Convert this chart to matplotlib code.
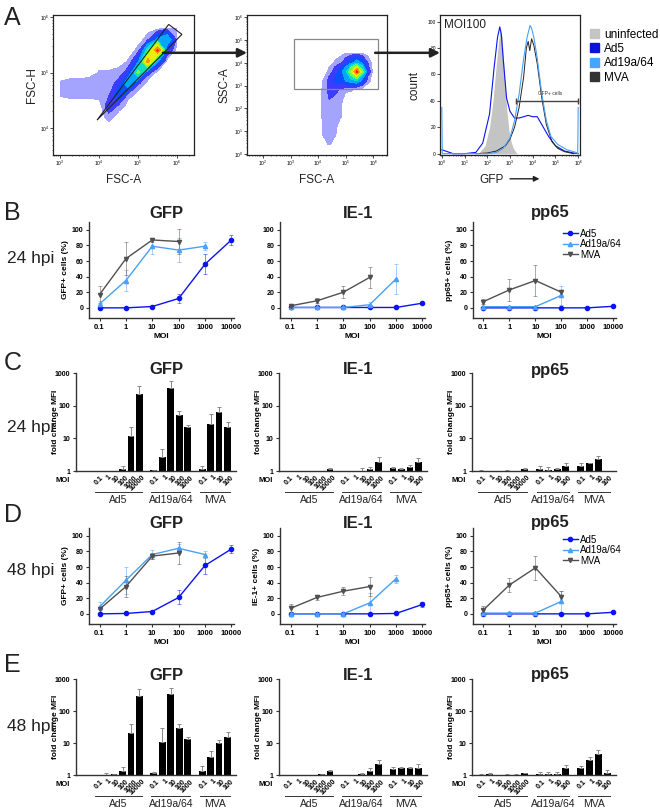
#%% flow cytometry + MOI titration figure
import numpy as np
import matplotlib
matplotlib.use('Agg')
import matplotlib.pyplot as plt
from matplotlib.patches import Polygon, Rectangle, Patch, ConnectionPatch
from matplotlib.lines import Line2D
from matplotlib.ticker import NullLocator
from matplotlib import transforms

plt.rcParams['font.family'] = ['Liberation Sans', 'DejaVu Sans']

#%% data

moi = [0.1, 1, 10, 100, 1000, 10000]
moi_labels = ['0.1', '1', '10', '100', '1000', '10000']
viruses = ['Ad5', 'Ad19a/64', 'MVA']

# A: density grids (log10 units, rows = y)
fsca_log = [3.0, 3.25, 3.5, 3.75, 4.0, 4.25, 4.5, 4.75, 5.0, 5.25, 5.5, 5.75, 6.0]
fsch_log = [4.0, 4.2, 4.4, 4.6, 4.8, 5.0, 5.2, 5.4, 5.6, 5.8]
fsc_density = [
    [0, 0, 0, 0, 0, 0, 0, 0, 0, 0, 0, 0, 0],
    [0, 0, 0, 0, 0, 0.5, 0, 0, 0, 0, 0, 0, 0],
    [0, 0, 0, 0, 0, 1.2, 0.6, 0, 0, 0, 0, 0, 0],
    [0.3, 0.4, 0.4, 0.4, 0.5, 0.6, 2.0, 0.5, 0, 0, 0, 0, 0],
    [0.3, 0.4, 0.4, 0.5, 0.5, 0.5, 0.9, 3.0, 0.8, 0, 0, 0, 0],
    [0, 0, 0, 0, 0.3, 0.3, 0.4, 1.0, 4.5, 1.0, 0, 0, 0],
    [0, 0, 0, 0, 0, 0, 0, 0.3, 1.8, 8.0, 2.2, 0, 0],
    [0, 0, 0, 0, 0, 0, 0, 0, 0.4, 3.8, 9.0, 1.3, 0],
    [0, 0, 0, 0, 0, 0, 0, 0, 0, 0.5, 2.2, 2.8, 0.5],
    [0, 0, 0, 0, 0, 0, 0, 0, 0, 0, 0, 0.5, 0.3],
]
fsc_gate_x = [3.95, 5.79, 6.13]
fsc_gate_y = [4.14, 5.87, 5.69]

ssc_fsca_log = [3.8, 4.0, 4.2, 4.4, 4.6, 4.8, 5.0, 5.2, 5.4, 5.6, 5.8, 6.0]
ssc_log = [0.4, 0.8, 1.2, 1.6, 2.0, 2.4, 2.8, 3.2, 3.6, 4.0, 4.4]
ssc_density = [
    [0, 0, 0, 0.3, 0, 0, 0, 0, 0, 0, 0, 0],
    [0, 0, 0.3, 0.4, 0.3, 0, 0, 0, 0, 0, 0, 0],
    [0, 0, 0.3, 0.5, 0.4, 0, 0, 0, 0, 0, 0, 0],
    [0, 0, 0.4, 0.5, 0.4, 0.3, 0, 0, 0, 0, 0, 0],
    [0, 0, 0.4, 0.6, 0.5, 0.3, 0, 0, 0, 0, 0, 0],
    [0, 0, 0.4, 0.7, 0.6, 0.4, 0, 0, 0, 0, 0, 0],
    [0, 0, 0.4, 0.9, 0.9, 0.6, 0.4, 0.3, 0, 0, 0, 0],
    [0, 0, 0.3, 0.9, 1.4, 1.6, 2.0, 2.5, 3.0, 1.6, 0.4, 0],
    [0, 0, 0, 0.4, 1.0, 1.6, 2.8, 5.5, 9.0, 4.6, 1.2, 0],
    [0, 0, 0, 0, 0.3, 0.6, 1.0, 1.8, 2.5, 1.8, 0.7, 0],
    [0, 0, 0, 0, 0, 0, 0.3, 0.4, 0.4, 0.3, 0, 0],
]
ssc_gate = [3.11, 2.84, 6.18, 5.04]  # log x0, y0, x1, y1

dens_levels = [0.25, 0.7, 1.3, 2.0, 3.0, 4.0, 5.5, 7.0, 8.5, 10]
dens_colors = ['#a4a4ff', '#3c3cff', '#0a50ff', '#00a8ff', '#10e0c0',
               '#70ff50', '#e8f000', '#ff9000', '#ff2000']

# A: GFP histograms (log10 GFP, % of max)
h_un_x = [1.6, 1.9, 2.1, 2.25, 2.4, 2.5, 2.58, 2.65, 2.75, 2.85, 2.95, 3.05, 3.15, 3.3]
h_un_y = [0, 6, 20, 40, 68, 85, 95, 88, 62, 35, 18, 9, 4, 0]
h_ad5_x = [0.0, 0.5, 1.0, 1.5, 1.8, 2.1, 2.3, 2.45, 2.55, 2.62, 2.7, 2.85, 3.0, 3.2,
           3.4, 3.6, 3.8, 4.0, 4.2, 4.4, 4.7, 5.0, 5.4, 5.8, 6.0]
h_ad5_y = [3, 0, 0, 1, 8, 30, 65, 88, 96, 90, 72, 42, 32, 27,
           27, 28, 29, 28, 28, 22, 13, 6, 2, 0.5, 0]
h_ad19_x = [0.0, 0.02, 1.0, 2.0, 2.4, 2.7, 3.0, 3.2, 3.4, 3.6, 3.75, 3.88, 3.95, 4.05,
            4.2, 4.4, 4.6, 4.8, 5.1, 5.5, 5.9, 5.98, 6.0]
h_ad19_y = [35, 0, 0, 0, 1, 4, 12, 25, 45, 72, 88, 97, 95, 88,
            72, 45, 25, 13, 7, 3, 1, 0, 35]
h_mva_x = [1.5, 2.0, 2.4, 2.8, 3.0, 3.2, 3.4, 3.6, 3.72, 3.8, 3.87, 3.95, 4.05, 4.2,
           4.4, 4.6, 4.85, 5.1, 5.4, 5.8]
h_mva_y = [0, 0.5, 2, 6, 11, 20, 35, 58, 80, 85, 78, 87, 82, 68,
           42, 22, 9, 4, 1.5, 0]
gfp_gate = [3.28, 6.0, 40]

# B: 24 hpi, % positive cells
b_gfp_ad5 = [0, 0, 1.7, 12, 56, 87];      b_gfp_ad5_sd = [0.5, 0.5, 0.8, 6, 13, 6]
b_gfp_ad19 = [5, 35, 79, 74, 79];         b_gfp_ad19_sd = [4, 14, 10, 15, 5]
b_gfp_mva = [17, 63, 87, 85];             b_gfp_mva_sd = [11, 21, 2, 16]
b_ie1_ad5 = [0.5, 0.5, 0.5, 0.5, 0.5, 6]; b_ie1_ad5_sd = [0, 0, 0, 0, 0, 1]
b_ie1_ad19 = [0.5, 0.5, 0.5, 4, 37];      b_ie1_ad19_sd = [0, 0, 0.5, 3, 19]
b_ie1_mva = [2.6, 9, 20, 39];             b_ie1_mva_sd = [1, 3, 8, 13]
b_pp65_ad5 = [0, 0, 0, 0, 0, 2];          b_pp65_ad5_sd = [0, 0, 0, 0, 0, 0.5]
b_pp65_ad19 = [1.5, 1.5, 1.5, 16];        b_pp65_ad19_sd = [0, 0, 0, 12]
b_pp65_mva = [8, 23, 35, 20];             b_pp65_mva_sd = [3, 14, 20, 3]

# D: 48 hpi, % positive cells
d_gfp_ad5 = [0, 0.5, 3, 21, 62, 83];      d_gfp_ad5_sd = [0, 0.5, 1, 9, 11, 5]
d_gfp_ad19 = [9, 43, 76, 84, 76];         d_gfp_ad19_sd = [6, 17, 6, 6, 4]
d_gfp_mva = [6, 35, 74, 78];              d_gfp_mva_sd = [3, 13, 4, 14]
d_ie1_ad5 = [0, 0, 0, 0, 0.5, 12];        d_ie1_ad5_sd = [0, 0, 0, 0, 0.5, 3]
d_ie1_ad19 = [0, 0, 0, 14, 45];           d_ie1_ad19_sd = [0, 0, 0, 13, 5]
d_ie1_mva = [7, 21, 29, 35];              d_ie1_mva_sd = [5, 3, 5, 12]
d_pp65_ad5 = [0, 0, 0, 0, 0, 2];          d_pp65_ad5_sd = [0, 0, 0, 0, 0, 0.5]
d_pp65_ad19 = [1, 1, 1, 16];              d_pp65_ad19_sd = [0, 0, 0, 13]
d_pp65_mva = [5, 37, 59, 22];             d_pp65_mva_sd = [5, 8.5, 15, 7.5]

# C/E: fold change MFI, bars in group order Ad5 | Ad19a/64 | MVA
n_gfp = [6, 5, 4]
n_ie1 = [6, 5, 4]
n_pp65 = [6, 4, 4]
c_gfp_mean = [1, 1, 1, 1.18, 11.8, 235, 1.05, 2.6, 350, 53, 23, 1.15, 28, 64, 23]
c_gfp_sd = [0, 0, 0, 0.21, 11, 160, 0, 2.2, 215, 17, 3, 0.24, 29, 27, 8]
c_ie1_mean = [1, 1, 1, 1, 1, 1.13, 1, 1, 1, 1.13, 1.92, 1.21, 1.18, 1.34, 1.92]
c_ie1_sd = [0, 0, 0, 0, 0, 0.14, 0, 0, 0.2, 0.21, 0.85, 0.13, 0.09, 0.16, 0.58]
c_pp65_mean = [1, 1, 1, 1, 1, 1.15, 1.13, 1.1, 1.13, 1.47, 1.43, 1.78, 2.26, 1.0]
c_pp65_sd = [0.1, 0, 0, 0.07, 0, 0.12, 0.27, 0.23, 0.14, 0.23, 0.27, 0.04, 0.6, 0]
e_gfp_mean = [1, 1, 1.07, 1.37, 21, 296, 1.13, 11, 333, 29, 13, 1.37, 3.7, 10, 15]
e_gfp_sd = [0, 0.13, 0.03, 0.37, 18, 180, 0.14, 18, 177, 9, 2.5, 0.53, 1.9, 2.5, 6.6]
e_ie1_mean = [1, 1, 1, 1, 1.05, 1.33, 1, 1, 1.05, 1.34, 2.22, 1.51, 1.62, 1.7, 1.7]
e_ie1_sd = [0, 0, 0, 0, 0.05, 0.1, 0, 0, 0.13, 0.28, 0.62, 0.32, 0.13, 0.13, 0.47]
e_pp65_mean = [1, 1.05, 1, 1, 1, 1.13, 1.08, 1.1, 1.05, 1.62, 1.62, 2.84, 4.6, 1.18]
e_pp65_sd = [0.05, 0.08, 0, 0.08, 0.05, 0.03, 0.19, 0.11, 0.16, 0.45, 0.3, 0.69, 1.56, 0.26]

#%% styles

W, H = 660, 810
AD5_C, AD19_C, MVA_C = '#0a14f0', '#4ba0f5', '#505050'
UNINF_C = '#c4c4c4'
SPINE_C = '#333333'

def rect(l, t, r, b):
    return [l / W, 1 - b / H, (r - l) / W, (b - t) / H]

def px(x, y):
    return x / W, 1 - y / H

fig = plt.figure(figsize=(6.6, 8.1), dpi=100)

#%% panel A

def flow_axes(pos):
    ax = fig.add_axes(pos)
    ax.set_xscale('log')
    ax.set_yscale('log')
    for s in ax.spines.values():
        s.set_linewidth(0.9)
        s.set_color('#222222')
    ax.tick_params(labelsize=3.5, length=2, width=0.5, pad=1)
    ax.tick_params(which='minor', length=1, width=0.4)
    return ax

a1 = flow_axes(rect(53, 15, 194, 155))
a1.contourf(10 ** np.array(fsca_log), 10 ** np.array(fsch_log), np.array(fsc_density),
            levels=dens_levels, colors=dens_colors)
a1.add_patch(Polygon(list(zip(10 ** np.array(fsc_gate_x), 10 ** np.array(fsc_gate_y))),
                     fill=False, ec='#222222', lw=0.8))
a1.set_xlim(10 ** 2.82, 10 ** 6.44)
a1.set_ylim(10 ** 3.51, 10 ** 6.04)
a1.set_xticks([1e3, 1e4, 1e5, 1e6])
a1.set_yticks([1e4, 1e5, 1e6])
a1.text(0.5, -0.18, 'FSC-A', transform=a1.transAxes, ha='center', va='center', fontsize=8.5, color='#222')
a1.text(-0.15, 0.5, 'FSC-H', transform=a1.transAxes, ha='center', va='center', rotation=90, fontsize=8.5, color='#222')

a2 = flow_axes(rect(247, 15, 387, 155))
a2.contourf(10 ** np.array(ssc_fsca_log), 10 ** np.array(ssc_log), np.array(ssc_density),
            levels=dens_levels, colors=dens_colors)
a2.add_patch(Rectangle((10 ** ssc_gate[0], 10 ** ssc_gate[1]),
                       10 ** ssc_gate[2] - 10 ** ssc_gate[0], 10 ** ssc_gate[3] - 10 ** ssc_gate[1],
                       fill=False, ec='#888888', lw=0.9))
a2.set_xlim(10 ** 1.42, 10 ** 6.5)
a2.set_ylim(10 ** -0.05, 10 ** 6.1)
a2.set_xticks([1e2, 1e3, 1e4, 1e5, 1e6])
a2.set_yticks([1e0, 1e1, 1e2, 1e3, 1e4, 1e5, 1e6])
a2.text(0.5, -0.18, 'FSC-A', transform=a2.transAxes, ha='center', va='center', fontsize=8.5, color='#222')
a2.text(-0.16, 0.5, 'SSC-A', transform=a2.transAxes, ha='center', va='center', rotation=90, fontsize=8.5, color='#222')

a3 = fig.add_axes(rect(440, 15, 580, 155))
a3.set_xscale('log')
for s in a3.spines.values():
    s.set_linewidth(0.9)
    s.set_color('#222222')
a3.tick_params(labelsize=3.5, length=2, width=0.5, pad=1)
a3.tick_params(which='minor', length=1, width=0.4)
a3.fill_between(10 ** np.array(h_un_x), h_un_y, color=UNINF_C, lw=0)
a3.plot(10 ** np.array(h_ad5_x), h_ad5_y, color=AD5_C, lw=0.8)
a3.plot(10 ** np.array(h_mva_x), h_mva_y, color='#222222', lw=0.7)
a3.plot(10 ** np.array(h_ad19_x), h_ad19_y, color=AD19_C, lw=0.8)
a3.plot([10 ** gfp_gate[0], 10 ** gfp_gate[1]], [gfp_gate[2], gfp_gate[2]],
        color='#444444', lw=1.0, marker='|', ms=5, mew=1.0, clip_on=False)
a3.text(10 ** 4.75, gfp_gate[2] + 4, 'GFP+ cells', fontsize=3.5, ha='center', va='bottom', color='#333')
a3.set_xlim(10 ** -0.08, 10 ** 6.08)
a3.set_ylim(-1, 105)
a3.set_xticks([1e0, 1e1, 1e2, 1e3, 1e4, 1e5, 1e6])
a3.set_yticks([0, 20, 40, 60, 80, 100])
a3.text(0.03, 0.93, 'MOI100', transform=a3.transAxes, ha='left', va='center', fontsize=8.5, color='#222')
a3.text(-0.18, 0.5, 'count', transform=a3.transAxes, ha='center', va='center', rotation=90, fontsize=8.5, color='#222')
a3.text(0.37, -0.18, 'GFP', transform=a3.transAxes, ha='center', va='center', fontsize=8.5, color='#222')
a3.annotate('', xy=(0.73, -0.17), xytext=(0.48, -0.17), xycoords='axes fraction',
            arrowprops=dict(arrowstyle='-|>', color='#222', lw=1.0, mutation_scale=8))

for axA, axB, xa in [(a1, a2, 0.78), (a2, a3, 0.915)]:
    fig.add_artist(ConnectionPatch(xyA=(xa, 0.73), coordsA=axA.transAxes,
                                   xyB=(0.0, 0.73), coordsB=axB.transAxes,
                                   arrowstyle='-|>', color='#222222', lw=1.8, mutation_scale=13))

fig.legend([Patch(color=UNINF_C), Patch(color='#0a14d8'), Patch(color='#46a6ff'), Patch(color='#333333')],
           ['uninfected', 'Ad5', 'Ad19a/64', 'MVA'],
           loc='upper left', bbox_to_anchor=px(585, 24), frameon=False, fontsize=8.5,
           handlelength=0.8, handleheight=0.8, labelspacing=0.2, handletextpad=0.4, borderaxespad=0)

#%% line panels (B, D)

def style_axes(ax):
    for s in ['top', 'right']:
        ax.spines[s].set_visible(False)
    for s in ['left', 'bottom']:
        ax.spines[s].set_linewidth(1.0)
        ax.spines[s].set_color(SPINE_C)
    ax.tick_params(length=2.5, width=0.8, color=SPINE_C, pad=1.5)

def line_panel(ax, series, ylabel, legend=False):
    style_axes(ax)
    for (vals, sd), col, mk in zip(series, [AD5_C, AD19_C, MVA_C], ['o', '^', 'v']):
        x = moi[:len(vals)]
        cont = ax.errorbar(x, vals, yerr=sd, color=col, marker=mk, ms=3, lw=1.0,
                           elinewidth=0.7, capsize=1.5, capthick=0.7)
        for c in cont[1]:
            c.set_alpha(0.5)
        for c in cont[2]:
            c.set_alpha(0.5)
    ax.set_xscale('log')
    ax.set_xlim(10 ** -1.4, 10 ** 4.1)
    ax.set_ylim(-13, 110)
    ax.set_xticks(moi, moi_labels)
    ax.xaxis.set_minor_locator(NullLocator())
    ax.set_yticks([0, 20, 40, 60, 80, 100])
    for lab in ax.get_xticklabels():
        lab.set_fontsize(5.5)
        lab.set_fontweight('bold')
    for lab in ax.get_yticklabels():
        lab.set_fontsize(5)
        lab.set_fontweight('bold')
    ax.set_xlabel('MOI', fontsize=6, fontweight='bold', labelpad=2)
    if ylabel:
        ax.set_ylabel(ylabel, fontsize=6, fontweight='bold', labelpad=2)
    if legend:
        handles = [Line2D([], [], color=c, marker=m, ms=3, lw=1.0)
                   for c, m in zip([AD5_C, AD19_C, MVA_C], ['o', '^', 'v'])]
        ax.legend(handles, viruses, loc='upper left', bbox_to_anchor=(0.6, 0.97), frameon=False,
                  fontsize=7, handlelength=1.6, labelspacing=0.05, borderaxespad=0, handletextpad=0.2)

line_cols = [(89, 234), (280, 425), (473, 616)]
b_series = [
    [(b_gfp_ad5, b_gfp_ad5_sd), (b_gfp_ad19, b_gfp_ad19_sd), (b_gfp_mva, b_gfp_mva_sd)],
    [(b_ie1_ad5, b_ie1_ad5_sd), (b_ie1_ad19, b_ie1_ad19_sd), (b_ie1_mva, b_ie1_mva_sd)],
    [(b_pp65_ad5, b_pp65_ad5_sd), (b_pp65_ad19, b_pp65_ad19_sd), (b_pp65_mva, b_pp65_mva_sd)],
]
d_series = [
    [(d_gfp_ad5, d_gfp_ad5_sd), (d_gfp_ad19, d_gfp_ad19_sd), (d_gfp_mva, d_gfp_mva_sd)],
    [(d_ie1_ad5, d_ie1_ad5_sd), (d_ie1_ad19, d_ie1_ad19_sd), (d_ie1_mva, d_ie1_mva_sd)],
    [(d_pp65_ad5, d_pp65_ad5_sd), (d_pp65_ad19, d_pp65_ad19_sd), (d_pp65_mva, d_pp65_mva_sd)],
]
b_ylabels = ['GFP+ cells (%)', None, 'pp65+ cells (%)']
d_ylabels = ['GFP+ cells (%)', 'IE-1+ cells (%)', 'pp65+ cells (%)']

for k, (l, r) in enumerate(line_cols):
    line_panel(fig.add_axes(rect(l, 222, r, 318)), b_series[k], b_ylabels[k], legend=(k == 2))
    line_panel(fig.add_axes(rect(l, 528, r, 624)), d_series[k], d_ylabels[k], legend=(k == 2))

#%% bar panels (C, E)

def bar_panel(ax, means, sds, ngroup, left, width_px):
    style_axes(ax)
    pos, labels, spans = [], [], []
    start = 0.0
    for n in ngroup:
        p = [start + i for i in range(n)]
        pos += p
        labels += moi_labels[:n]
        spans.append((p[0], p[-1]))
        start = p[-1] + 1.7
    means = np.array(means)
    ax.bar(pos, means - 1, bottom=1, width=0.8, color='black')
    ax.errorbar(pos, means, yerr=[np.zeros(len(sds)), sds], fmt='none', ecolor='#8a8a8a',
                elinewidth=0.7, capsize=1.5, capthick=0.7)
    ax.set_yscale('log')
    ax.set_ylim(1, 1000)
    ax.set_yticks([1, 10, 100, 1000], ['1', '10', '100', '1000'])
    ax.yaxis.set_minor_locator(NullLocator())
    ax.set_xlim(left, pos[-1] + 1.0)
    ax.set_xticks(pos, labels, rotation=45, ha='right', va='center', rotation_mode='anchor')
    ax.tick_params(axis='x', length=0, pad=4)
    shift = transforms.ScaledTranslation(5 / 100, 0, fig.dpi_scale_trans)
    for lab in ax.get_xticklabels():
        lab.set_fontsize(5)
        lab.set_fontweight('bold')
        lab.set_transform(lab.get_transform() + shift)
    for lab in ax.get_yticklabels():
        lab.set_fontsize(5)
        lab.set_fontweight('bold')
    ax.set_ylabel('fold change MFI', fontsize=6, fontweight='bold')
    ax.yaxis.set_label_coords(-17 / width_px, 0.5)
    ax.annotate('MOI', xy=(0, 0), xycoords='axes fraction', xytext=(-13, -9),
                textcoords='offset pixels', ha='center', va='center', fontsize=5.5, fontweight='bold')
    blend = transforms.blended_transform_factory(ax.transData, ax.transAxes)
    line_tr = transforms.offset_copy(blend, fig=fig, y=-21, units='dots')
    text_tr = transforms.offset_copy(blend, fig=fig, y=-29, units='dots')
    for (a, b), name in zip(spans, viruses):
        ax.plot([a - 0.3, b + 0.3], [0, 0], transform=line_tr, color='#333333', lw=0.7, clip_on=False)
        ax.text((a + b) / 2, 0, name, transform=text_tr, ha='center', va='center', fontsize=7.5, color='#222')

bar_cols = [(76, 236), (279, 427), (472, 616)]
bar_left = [-2.5, -1.0, -1.0]
c_data = [(c_gfp_mean, c_gfp_sd, n_gfp), (c_ie1_mean, c_ie1_sd, n_ie1), (c_pp65_mean, c_pp65_sd, n_pp65)]
e_data = [(e_gfp_mean, e_gfp_sd, n_gfp), (e_ie1_mean, e_ie1_sd, n_ie1), (e_pp65_mean, e_pp65_sd, n_pp65)]

for k, (l, r) in enumerate(bar_cols):
    bar_panel(fig.add_axes(rect(l, 373, r, 471)), *c_data[k], bar_left[k], r - l)
    bar_panel(fig.add_axes(rect(l, 679, r, 775)), *e_data[k], bar_left[k], r - l)

#%% titles and labels

for y in [213, 370, 523, 675]:
    for x, t in zip([166, 358, 550], ['GFP', 'IE-1', 'pp65']):
        fig.text(*px(x, y), t, ha='center', va='center', fontsize=12, fontweight='bold', color='#222')

for letter, y in [('A', 18), ('B', 213), ('C', 363), ('D', 515), ('E', 665)]:
    fig.text(*px(4, y), letter, ha='left', va='center', fontsize=18, color='#222')
for label, y in [('24 hpi', 259), ('24 hpi', 428), ('48 hpi', 570), ('48 hpi', 727)]:
    fig.text(*px(7, y), label, ha='left', va='center', fontsize=12.5, color='#222')

fig.savefig('out.png', dpi=100)
